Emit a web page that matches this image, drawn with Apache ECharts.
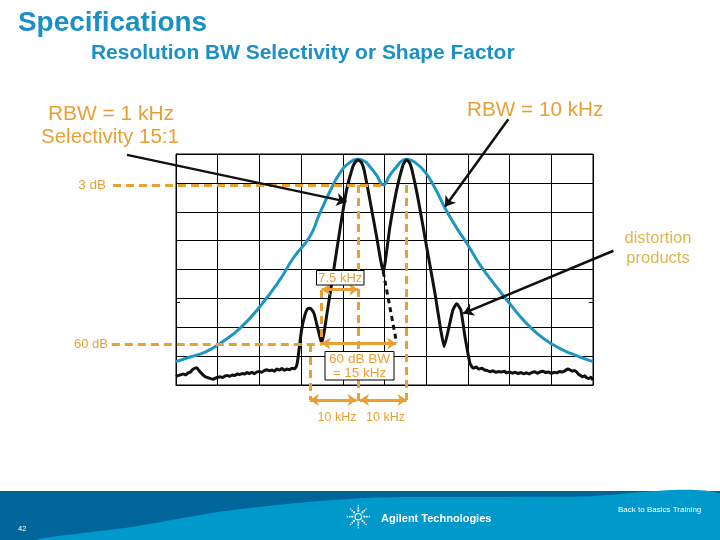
<!DOCTYPE html>
<html><head><meta charset="utf-8">
<script src="https://cdn.jsdelivr.net/npm/echarts/dist/echarts.min.js"></script>
<style>html,body{margin:0;padding:0;background:#fff}#c{width:720px;height:540px}</style>
</head><body><div id="c"></div>
<script>
// Axes in screen divisions: 10 horizontal x 8 vertical
const xTicks = [0,1,2,3,4,5,6,7,8,9,10];
const yTicks = [0,1,2,3,4,5,6,7,8];

// RBW = 10 kHz trace (blue)
const blueTrace = [
 [0,0.81],[0.34,0.97],[0.70,1.14],[1.06,1.44],[1.54,1.97],[2.01,2.71],[2.49,3.64],[2.81,4.39],
 [3.21,5.14],[3.45,5.95],[3.69,6.70],[3.93,7.34],[4.17,7.71],[4.37,7.82],[4.53,7.74],[4.65,7.56],
 [4.81,7.27],[4.97,6.93],[5.13,7.27],[5.29,7.56],[5.40,7.74],[5.53,7.82],[5.73,7.71],[5.97,7.38],
 [6.21,6.82],[6.45,6.13],[6.73,5.44],[7.00,4.85],[7.29,4.16],[7.69,3.39],[7.99,2.84],[8.33,2.25],
 [8.65,1.80],[8.99,1.44],[9.45,1.10],[10,0.81]
];

// RBW = 1 kHz trace (black)
const blackTrace = [
 [0,0.29],[0.06,0.33],[0.12,0.36],[0.17,0.38],[0.23,0.35],[0.28,0.41],[0.34,0.44],[0.39,0.52],[0.45,0.58],[0.50,0.60],
 [0.55,0.50],[0.60,0.42],[0.66,0.33],[0.71,0.28],[0.77,0.25],[0.83,0.22],[0.89,0.20],[0.95,0.24],[1.00,0.27],[1.06,0.29],
 [1.12,0.26],[1.17,0.31],[1.23,0.33],[1.29,0.30],[1.35,0.35],[1.41,0.33],[1.47,0.38],[1.53,0.36],[1.59,0.40],[1.65,0.38],
 [1.70,0.43],[1.76,0.40],[1.82,0.44],[1.88,0.39],[1.94,0.45],[2.00,0.47],[2.06,0.44],[2.12,0.50],[2.18,0.53],[2.24,0.49],
 [2.30,0.52],[2.36,0.48],[2.42,0.55],[2.48,0.52],[2.54,0.57],[2.60,0.51],[2.66,0.55],[2.72,0.53],[2.78,0.58],[2.84,0.56],
 [2.89,0.66],[2.93,0.98],[3.01,1.90],[3.09,2.42],[3.15,2.63],[3.21,2.66],[3.26,2.60],[3.31,2.48],[3.41,1.90],[3.49,1.46],
 [3.55,1.80],[3.61,2.37],[3.77,3.87],[3.93,5.37],[4.09,6.75],[4.24,7.56],[4.31,7.74],[4.37,7.79],[4.44,7.72],[4.51,7.45],
 [4.65,6.41],[4.81,5.14],[4.97,3.92],[5.13,5.48],[5.29,6.75],[5.43,7.56],[5.49,7.74],[5.53,7.79],[5.59,7.72],[5.65,7.50],
 [5.81,6.41],[6.01,4.79],[6.21,3.18],[6.35,1.90],[6.43,1.33],[6.53,1.90],[6.64,2.60],[6.73,2.81],[6.83,2.60],[6.93,1.67],
 [7.05,0.75],[7.13,0.58],[7.20,0.62],[7.26,0.55],[7.33,0.58],[7.40,0.52],[7.47,0.50],[7.53,0.46],[7.60,0.49],[7.67,0.44],
 [7.73,0.47],[7.80,0.45],[7.87,0.48],[7.93,0.42],[8.00,0.45],[8.07,0.41],[8.13,0.44],[8.20,0.40],[8.27,0.43],[8.33,0.39],
 [8.40,0.42],[8.47,0.38],[8.53,0.43],[8.60,0.46],[8.67,0.41],[8.73,0.45],[8.80,0.48],[8.87,0.43],[8.93,0.45],[9.00,0.40],
 [9.07,0.44],[9.13,0.42],[9.20,0.47],[9.27,0.45],[9.33,0.50],[9.40,0.55],[9.45,0.52],[9.50,0.48],[9.55,0.50],[9.60,0.46],
 [9.65,0.38],[9.70,0.33],[9.75,0.28],[9.80,0.32],[9.85,0.25],[9.90,0.22],[9.95,0.27],[10,0.17]
];
// hidden continuation of the first response (dashed)
const blackHidden = [[[4.97,3.92],[5.29,1.46]]];

// annotation levels / guides (in divisions)
const orangeGuides = [
 [[-1.51,6.93],[4.97,6.93]],   // 3 dB level
 [[-1.54,1.42],[3.49,1.42]],   // 60 dB level
 [[4.37,6.93],[4.37,-0.66]],
 [[5.53,6.93],[5.53,-0.52]],
 [[3.21,1.42],[3.21,-0.52]],
 [[3.49,3.29],[3.49,1.42]]
];
const orangeArrows = [
 [[3.49,3.31],[4.37,3.31]],    // 7.5 kHz
 [[3.49,1.44],[5.28,1.44]],    // 60 dB BW
 [[3.21,-0.52],[4.33,-0.52]],  // 10 kHz
 [[4.41,-0.52],[5.53,-0.52]]   // 10 kHz
];
const pointerArrows = [
 [[-1.175,7.97],[4.09,6.35]],
 [[7.97,9.20],[6.45,6.17]],
 [[10.49,4.65],[6.89,2.48]]
];
const edgeTicks = [[[0,2.88],[0.1,2.88]],[[9.9,2.88],[10,2.88]]];

const FONT = "'Liberation Sans', Arial, sans-serif";
const ORANGE = '#e8a035';
const chart = echarts.init(document.getElementById('c'), null, {renderer:'canvas'});

function txt(text, x, y, size, color, opts) {
  opts = opts || {};
  return {type:'text', z:100, x, y, scaleX: opts.sx || 1,
    style:{text, x:0, y:0, fill:color,
    font:(opts.bold?'bold ':'')+size+'px '+FONT,
    textAlign:opts.align||'left', textVerticalAlign:'middle'}};
}
const logoDots = [];
for (let k=0;k<8;k++){
  const a = k*Math.PI/4;
  [6,8.5,11].forEach((r,i)=>{
    logoDots.push({type:'circle', z:101, shape:{cx:358.3+r*Math.cos(a), cy:516.7+r*Math.sin(a), r:1.1-i*0.2}, style:{fill:'#fff'}});
  });
}

const graphics = [
  // footer
  {type:'rect', z:90, shape:{x:0,y:491,width:720,height:49}, style:{fill:'#006699'}},
  {type:'polygon', z:91, shape:{points:[[40,540],[133,526.7],[233,510],[360,498.3],[480,497],[580,496.5],[720,493.5],[720,540]], smooth:0.3}, style:{fill:'#0099cc'}},
  {type:'circle', z:101, shape:{cx:358.3,cy:516.7,r:3.2}, style:{fill:'none',stroke:'#fff',lineWidth:1.2}},
  ...logoDots,
  txt('Agilent Technologies', 381, 519, 11, '#fff', {bold:true}),
  txt('Back to Basics Training', 618, 509.5, 8, '#fff'),
  txt('42', 18, 528.5, 7.5, '#fff'),
  // titles
  txt('Specifications', 18, 24, 27, '#1a90c4', {bold:true, sx:1.033}),
  txt('Resolution BW Selectivity or Shape Factor', 91, 53.5, 20, '#1a90c4', {bold:true, sx:1.047}),
  txt('RBW = 1 kHz', 48, 114.5, 20.5, ORANGE, {sx:1.02}),
  txt('Selectivity 15:1', 41, 137, 20.5, ORANGE),
  txt('RBW = 10 kHz', 467, 110, 20.5, ORANGE, {sx:1.01}),
  txt('3 dB', 106, 185, 13.5, ORANGE, {align:'right'}),
  txt('60 dB', 108, 344, 13, ORANGE, {align:'right'}),
  txt('distortion', 658, 238.5, 16.5, '#e2b450', {align:'center'}),
  txt('products', 658, 258.5, 16.5, '#e2b450', {align:'center'}),
  // boxes
  {type:'rect', z:99, shape:{x:316.5,y:270.5,width:47.5,height:14.5}, style:{fill:'#fff',stroke:'#000',lineWidth:1}},
  txt('7.5 kHz', 340.3, 278, 13, ORANGE, {align:'center'}),
  {type:'rect', z:99, shape:{x:325,y:351.5,width:69,height:28.5}, style:{fill:'#fff',stroke:'#000',lineWidth:1}},
  txt('60 dB BW', 359.5, 359, 13.5, ORANGE, {align:'center'}),
  txt('= 15 kHz', 359.5, 373, 13.5, ORANGE, {align:'center'}),
  txt('10 kHz', 337, 418, 12.5, ORANGE, {align:'center'}),
  txt('10 kHz', 385.5, 418, 12.5, ORANGE, {align:'center'})
];

const toLines = arr => arr.map(c => ({coords:c}));

chart.setOption({
  animation:false,
  backgroundColor:'#fff',
  grid:{left:176, top:154, width:417, height:231, show:true, borderColor:'#000', borderWidth:1},
  xAxis:{type:'value', min:xTicks[0], max:xTicks[xTicks.length-1], interval:1,
    axisLabel:{show:false}, axisTick:{show:false}, axisLine:{show:true, lineStyle:{color:'#000'}},
    splitLine:{show:true, lineStyle:{color:'#000', width:1}}},
  yAxis:{type:'value', min:yTicks[0], max:yTicks[yTicks.length-1], interval:1,
    axisLabel:{show:false}, axisTick:{show:false}, axisLine:{show:true, lineStyle:{color:'#000'}},
    splitLine:{show:true, lineStyle:{color:'#000', width:1}}},
  series:[
    {type:'line', data:blueTrace, smooth:true, showSymbol:false, z:3, silent:true,
     lineStyle:{color:'#1e96c3', width:3}},
    {type:'line', data:blackTrace, smooth:0.15, showSymbol:false, z:4, silent:true,
     lineStyle:{color:'#111', width:3}},
    {type:'lines', coordinateSystem:'cartesian2d', clip:false, z:4, silent:true,
     data:toLines(blackHidden), lineStyle:{color:'#111', width:3, type:[5,4], opacity:1}},
    {type:'lines', coordinateSystem:'cartesian2d', clip:false, z:5, silent:true,
     data:toLines(orangeGuides), lineStyle:{color:ORANGE, width:3, type:[8,5], opacity:1}},
    {type:'lines', coordinateSystem:'cartesian2d', clip:false, z:6, silent:true,
     symbol:['arrow','arrow'], symbolSize:9,
     data:toLines(orangeArrows), lineStyle:{color:ORANGE, width:3, opacity:1}},
    {type:'lines', coordinateSystem:'cartesian2d', clip:false, z:7, silent:true,
     symbol:['none','arrow'], symbolSize:10,
     data:toLines(pointerArrows), lineStyle:{color:'#111', width:2.5, opacity:1}},
    {type:'lines', coordinateSystem:'cartesian2d', clip:false, z:7, silent:true,
     data:toLines(edgeTicks), lineStyle:{color:'#111', width:1, opacity:1}}
  ],
  graphic:graphics
});
</script></body></html>
